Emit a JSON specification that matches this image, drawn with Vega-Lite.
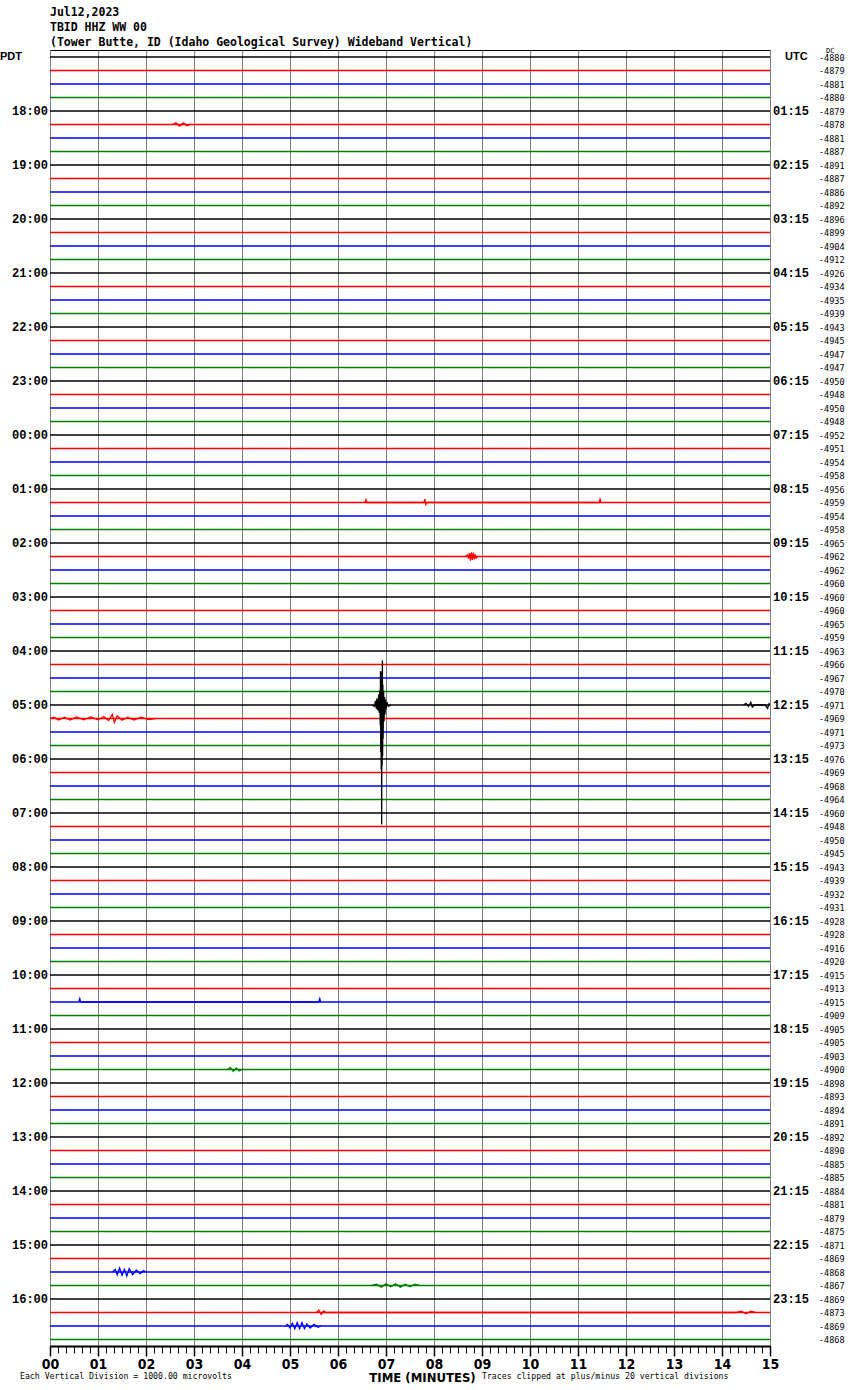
{
  "$schema": "https://vega.github.io/schema/vega-lite/v6.json",
  "width": 720,
  "height": 1296,
  "autosize": {"type": "none"},
  "padding": {"left": 50, "top": 50, "right": 80, "bottom": 44},
  "background": "white",
  "config": {"view": {"stroke": "black", "strokeWidth": 1}},
  "title": {
    "text": ["Jul12,2023", "TBID HHZ WW 00", "(Tower Butte, ID (Idaho Geological Survey) Wideband Vertical)"],
    "anchor": "start",
    "frame": "group",
    "font": "DejaVu Sans Mono",
    "fontSize": 11.5,
    "fontWeight": "bold",
    "color": "black",
    "lineHeight": 15,
    "offset": -2
  },
  "datasets": {
    "traces": [
      {"trace":0,"q":"00","dc":-4880},{"trace":1,"q":"15","dc":-4879},{"trace":2,"q":"30","dc":-4881},{"trace":3,"q":"45","dc":-4880},
      {"trace":4,"q":"00","dc":-4879,"pdt":"18:00","utc":"01:15"},{"trace":5,"q":"15","dc":-4878},{"trace":6,"q":"30","dc":-4881},{"trace":7,"q":"45","dc":-4887},
      {"trace":8,"q":"00","dc":-4891,"pdt":"19:00","utc":"02:15"},{"trace":9,"q":"15","dc":-4887},{"trace":10,"q":"30","dc":-4886},{"trace":11,"q":"45","dc":-4892},
      {"trace":12,"q":"00","dc":-4896,"pdt":"20:00","utc":"03:15"},{"trace":13,"q":"15","dc":-4899},{"trace":14,"q":"30","dc":-4904},{"trace":15,"q":"45","dc":-4912},
      {"trace":16,"q":"00","dc":-4926,"pdt":"21:00","utc":"04:15"},{"trace":17,"q":"15","dc":-4934},{"trace":18,"q":"30","dc":-4935},{"trace":19,"q":"45","dc":-4939},
      {"trace":20,"q":"00","dc":-4943,"pdt":"22:00","utc":"05:15"},{"trace":21,"q":"15","dc":-4945},{"trace":22,"q":"30","dc":-4947},{"trace":23,"q":"45","dc":-4947},
      {"trace":24,"q":"00","dc":-4950,"pdt":"23:00","utc":"06:15"},{"trace":25,"q":"15","dc":-4948},{"trace":26,"q":"30","dc":-4950},{"trace":27,"q":"45","dc":-4948},
      {"trace":28,"q":"00","dc":-4952,"pdt":"00:00","utc":"07:15"},{"trace":29,"q":"15","dc":-4951},{"trace":30,"q":"30","dc":-4954},{"trace":31,"q":"45","dc":-4958},
      {"trace":32,"q":"00","dc":-4956,"pdt":"01:00","utc":"08:15"},{"trace":33,"q":"15","dc":-4959},{"trace":34,"q":"30","dc":-4954},{"trace":35,"q":"45","dc":-4958},
      {"trace":36,"q":"00","dc":-4965,"pdt":"02:00","utc":"09:15"},{"trace":37,"q":"15","dc":-4962},{"trace":38,"q":"30","dc":-4962},{"trace":39,"q":"45","dc":-4960},
      {"trace":40,"q":"00","dc":-4960,"pdt":"03:00","utc":"10:15"},{"trace":41,"q":"15","dc":-4960},{"trace":42,"q":"30","dc":-4965},{"trace":43,"q":"45","dc":-4959},
      {"trace":44,"q":"00","dc":-4963,"pdt":"04:00","utc":"11:15"},{"trace":45,"q":"15","dc":-4966},{"trace":46,"q":"30","dc":-4967},{"trace":47,"q":"45","dc":-4970},
      {"trace":48,"q":"00","dc":-4971,"pdt":"05:00","utc":"12:15"},{"trace":49,"q":"15","dc":-4969},{"trace":50,"q":"30","dc":-4971},{"trace":51,"q":"45","dc":-4973},
      {"trace":52,"q":"00","dc":-4976,"pdt":"06:00","utc":"13:15"},{"trace":53,"q":"15","dc":-4969},{"trace":54,"q":"30","dc":-4968},{"trace":55,"q":"45","dc":-4964},
      {"trace":56,"q":"00","dc":-4960,"pdt":"07:00","utc":"14:15"},{"trace":57,"q":"15","dc":-4948},{"trace":58,"q":"30","dc":-4950},{"trace":59,"q":"45","dc":-4945},
      {"trace":60,"q":"00","dc":-4943,"pdt":"08:00","utc":"15:15"},{"trace":61,"q":"15","dc":-4939},{"trace":62,"q":"30","dc":-4932},{"trace":63,"q":"45","dc":-4931},
      {"trace":64,"q":"00","dc":-4928,"pdt":"09:00","utc":"16:15"},{"trace":65,"q":"15","dc":-4928},{"trace":66,"q":"30","dc":-4916},{"trace":67,"q":"45","dc":-4920},
      {"trace":68,"q":"00","dc":-4915,"pdt":"10:00","utc":"17:15"},{"trace":69,"q":"15","dc":-4913},{"trace":70,"q":"30","dc":-4915},{"trace":71,"q":"45","dc":-4909},
      {"trace":72,"q":"00","dc":-4905,"pdt":"11:00","utc":"18:15"},{"trace":73,"q":"15","dc":-4905},{"trace":74,"q":"30","dc":-4903},{"trace":75,"q":"45","dc":-4900},
      {"trace":76,"q":"00","dc":-4898,"pdt":"12:00","utc":"19:15"},{"trace":77,"q":"15","dc":-4893},{"trace":78,"q":"30","dc":-4894},{"trace":79,"q":"45","dc":-4891},
      {"trace":80,"q":"00","dc":-4892,"pdt":"13:00","utc":"20:15"},{"trace":81,"q":"15","dc":-4890},{"trace":82,"q":"30","dc":-4885},{"trace":83,"q":"45","dc":-4885},
      {"trace":84,"q":"00","dc":-4884,"pdt":"14:00","utc":"21:15"},{"trace":85,"q":"15","dc":-4881},{"trace":86,"q":"30","dc":-4879},{"trace":87,"q":"45","dc":-4875},
      {"trace":88,"q":"00","dc":-4871,"pdt":"15:00","utc":"22:15"},{"trace":89,"q":"15","dc":-4869},{"trace":90,"q":"30","dc":-4868},{"trace":91,"q":"45","dc":-4867},
      {"trace":92,"q":"00","dc":-4869,"pdt":"16:00","utc":"23:15"},{"trace":93,"q":"15","dc":-4873},{"trace":94,"q":"30","dc":-4869},{"trace":95,"q":"45","dc":-4868}
    ],
    "events": [
      {"seg":"eq","trace":48,"q":"00","minute":6.70,"amp":0},
      {"seg":"eq","trace":48,"q":"00","minute":6.76,"amp":0.1},
      {"seg":"eq","trace":48,"q":"00","minute":6.78,"amp":-0.3},
      {"seg":"eq","trace":48,"q":"00","minute":6.80,"amp":0.3},
      {"seg":"eq","trace":48,"q":"00","minute":6.81,"amp":-0.5},
      {"seg":"eq","trace":48,"q":"00","minute":6.83,"amp":0.4},
      {"seg":"eq","trace":48,"q":"00","minute":6.85,"amp":-0.8},
      {"seg":"eq","trace":48,"q":"00","minute":6.86,"amp":0.6},
      {"seg":"eq","trace":48,"q":"00","minute":6.87,"amp":-1.1},
      {"seg":"eq","trace":48,"q":"00","minute":6.88,"amp":1.5},
      {"seg":"eq","trace":48,"q":"00","minute":6.885,"amp":-2.5},
      {"seg":"eq","trace":48,"q":"00","minute":6.89,"amp":3.5},
      {"seg":"eq","trace":48,"q":"00","minute":6.895,"amp":-2.4},
      {"seg":"eq","trace":48,"q":"00","minute":6.90,"amp":4.8},
      {"seg":"eq","trace":48,"q":"00","minute":6.905,"amp":-1.8},
      {"seg":"eq","trace":48,"q":"00","minute":6.91,"amp":8.85},
      {"seg":"eq","trace":48,"q":"00","minute":6.915,"amp":-2.5},
      {"seg":"eq","trace":48,"q":"00","minute":6.92,"amp":4.5},
      {"seg":"eq","trace":48,"q":"00","minute":6.925,"amp":-3.3},
      {"seg":"eq","trace":48,"q":"00","minute":6.93,"amp":3.8},
      {"seg":"eq","trace":48,"q":"00","minute":6.935,"amp":-1.5},
      {"seg":"eq","trace":48,"q":"00","minute":6.94,"amp":2.5},
      {"seg":"eq","trace":48,"q":"00","minute":6.95,"amp":-1.0},
      {"seg":"eq","trace":48,"q":"00","minute":6.96,"amp":1.2},
      {"seg":"eq","trace":48,"q":"00","minute":6.97,"amp":-0.6},
      {"seg":"eq","trace":48,"q":"00","minute":6.98,"amp":0.7},
      {"seg":"eq","trace":48,"q":"00","minute":6.99,"amp":-0.4},
      {"seg":"eq","trace":48,"q":"00","minute":7.00,"amp":0.3},
      {"seg":"eq","trace":48,"q":"00","minute":7.02,"amp":-0.2},
      {"seg":"eq","trace":48,"q":"00","minute":7.05,"amp":0.1},
      {"seg":"eq","trace":48,"q":"00","minute":7.10,"amp":0},
      {"seg":"e48b","trace":48,"q":"00","minute":14.45,"amp":0},
      {"seg":"e48b","trace":48,"q":"00","minute":14.5,"amp":-0.12},
      {"seg":"e48b","trace":48,"q":"00","minute":14.55,"amp":0.1},
      {"seg":"e48b","trace":48,"q":"00","minute":14.6,"amp":-0.2},
      {"seg":"e48b","trace":48,"q":"00","minute":14.63,"amp":0.15},
      {"seg":"e48b","trace":48,"q":"00","minute":14.68,"amp":0},
      {"seg":"e48b","trace":48,"q":"00","minute":14.9,"amp":0},
      {"seg":"e48b","trace":48,"q":"00","minute":14.95,"amp":0.25},
      {"seg":"e48b","trace":48,"q":"00","minute":14.98,"amp":-0.1},
      {"seg":"e48b","trace":48,"q":"00","minute":15,"amp":0},
      {"seg":"e37","trace":37,"q":"15","minute":8.66,"amp":0},
      {"seg":"e37","trace":37,"q":"15","minute":8.70,"amp":-0.12},
      {"seg":"e37","trace":37,"q":"15","minute":8.72,"amp":0.15},
      {"seg":"e37","trace":37,"q":"15","minute":8.74,"amp":-0.25},
      {"seg":"e37","trace":37,"q":"15","minute":8.76,"amp":0.3},
      {"seg":"e37","trace":37,"q":"15","minute":8.78,"amp":-0.3},
      {"seg":"e37","trace":37,"q":"15","minute":8.80,"amp":0.25},
      {"seg":"e37","trace":37,"q":"15","minute":8.82,"amp":-0.28},
      {"seg":"e37","trace":37,"q":"15","minute":8.84,"amp":0.2},
      {"seg":"e37","trace":37,"q":"15","minute":8.86,"amp":-0.15},
      {"seg":"e37","trace":37,"q":"15","minute":8.88,"amp":0.12},
      {"seg":"e37","trace":37,"q":"15","minute":8.91,"amp":0},
      {"seg":"e49","trace":49,"q":"15","minute":0,"amp":0},
      {"seg":"e49","trace":49,"q":"15","minute":0.08,"amp":-0.1},
      {"seg":"e49","trace":49,"q":"15","minute":0.18,"amp":0.12},
      {"seg":"e49","trace":49,"q":"15","minute":0.3,"amp":-0.1},
      {"seg":"e49","trace":49,"q":"15","minute":0.42,"amp":0.12},
      {"seg":"e49","trace":49,"q":"15","minute":0.55,"amp":-0.12},
      {"seg":"e49","trace":49,"q":"15","minute":0.7,"amp":0.1},
      {"seg":"e49","trace":49,"q":"15","minute":0.85,"amp":-0.12},
      {"seg":"e49","trace":49,"q":"15","minute":1.0,"amp":0.1},
      {"seg":"e49","trace":49,"q":"15","minute":1.12,"amp":-0.15},
      {"seg":"e49","trace":49,"q":"15","minute":1.22,"amp":0.15},
      {"seg":"e49","trace":49,"q":"15","minute":1.3,"amp":-0.3},
      {"seg":"e49","trace":49,"q":"15","minute":1.34,"amp":0.3},
      {"seg":"e49","trace":49,"q":"15","minute":1.4,"amp":-0.2},
      {"seg":"e49","trace":49,"q":"15","minute":1.5,"amp":0.12},
      {"seg":"e49","trace":49,"q":"15","minute":1.62,"amp":-0.1},
      {"seg":"e49","trace":49,"q":"15","minute":1.75,"amp":0.12},
      {"seg":"e49","trace":49,"q":"15","minute":1.9,"amp":-0.1},
      {"seg":"e49","trace":49,"q":"15","minute":2.05,"amp":0.08},
      {"seg":"e49","trace":49,"q":"15","minute":2.2,"amp":0},
      {"seg":"e90","trace":90,"q":"30","minute":1.3,"amp":0},
      {"seg":"e90","trace":90,"q":"30","minute":1.36,"amp":-0.2},
      {"seg":"e90","trace":90,"q":"30","minute":1.40,"amp":0.2},
      {"seg":"e90","trace":90,"q":"30","minute":1.45,"amp":-0.3},
      {"seg":"e90","trace":90,"q":"30","minute":1.5,"amp":0.25},
      {"seg":"e90","trace":90,"q":"30","minute":1.55,"amp":-0.2},
      {"seg":"e90","trace":90,"q":"30","minute":1.6,"amp":0.3},
      {"seg":"e90","trace":90,"q":"30","minute":1.65,"amp":-0.25},
      {"seg":"e90","trace":90,"q":"30","minute":1.72,"amp":0.2},
      {"seg":"e90","trace":90,"q":"30","minute":1.8,"amp":-0.15},
      {"seg":"e90","trace":90,"q":"30","minute":1.88,"amp":0.12},
      {"seg":"e90","trace":90,"q":"30","minute":1.95,"amp":-0.1},
      {"seg":"e90","trace":90,"q":"30","minute":2.0,"amp":0},
      {"seg":"e94","trace":94,"q":"30","minute":4.9,"amp":0},
      {"seg":"e94","trace":94,"q":"30","minute":4.95,"amp":-0.12},
      {"seg":"e94","trace":94,"q":"30","minute":5.0,"amp":0.15},
      {"seg":"e94","trace":94,"q":"30","minute":5.05,"amp":-0.2},
      {"seg":"e94","trace":94,"q":"30","minute":5.1,"amp":0.2},
      {"seg":"e94","trace":94,"q":"30","minute":5.15,"amp":-0.25},
      {"seg":"e94","trace":94,"q":"30","minute":5.2,"amp":0.2},
      {"seg":"e94","trace":94,"q":"30","minute":5.25,"amp":-0.25},
      {"seg":"e94","trace":94,"q":"30","minute":5.3,"amp":0.2},
      {"seg":"e94","trace":94,"q":"30","minute":5.35,"amp":-0.15},
      {"seg":"e94","trace":94,"q":"30","minute":5.42,"amp":0.15},
      {"seg":"e94","trace":94,"q":"30","minute":5.5,"amp":-0.12},
      {"seg":"e94","trace":94,"q":"30","minute":5.58,"amp":0.1},
      {"seg":"e94","trace":94,"q":"30","minute":5.65,"amp":0},
      {"seg":"e91","trace":91,"q":"45","minute":6.7,"amp":0},
      {"seg":"e91","trace":91,"q":"45","minute":6.8,"amp":-0.1},
      {"seg":"e91","trace":91,"q":"45","minute":6.9,"amp":0.12},
      {"seg":"e91","trace":91,"q":"45","minute":7.0,"amp":-0.12},
      {"seg":"e91","trace":91,"q":"45","minute":7.1,"amp":0.1},
      {"seg":"e91","trace":91,"q":"45","minute":7.2,"amp":-0.12},
      {"seg":"e91","trace":91,"q":"45","minute":7.3,"amp":0.12},
      {"seg":"e91","trace":91,"q":"45","minute":7.4,"amp":-0.1},
      {"seg":"e91","trace":91,"q":"45","minute":7.5,"amp":0.1},
      {"seg":"e91","trace":91,"q":"45","minute":7.6,"amp":-0.1},
      {"seg":"e91","trace":91,"q":"45","minute":7.7,"amp":0},
      {"seg":"e93","trace":93,"q":"15","minute":5.55,"amp":0},
      {"seg":"e93","trace":93,"q":"15","minute":5.6,"amp":-0.18},
      {"seg":"e93","trace":93,"q":"15","minute":5.65,"amp":0.15},
      {"seg":"e93","trace":93,"q":"15","minute":5.7,"amp":-0.12},
      {"seg":"e93","trace":93,"q":"15","minute":5.75,"amp":0},
      {"seg":"e93","trace":93,"q":"15","minute":14.3,"amp":0},
      {"seg":"e93","trace":93,"q":"15","minute":14.4,"amp":-0.1},
      {"seg":"e93","trace":93,"q":"15","minute":14.5,"amp":0.1},
      {"seg":"e93","trace":93,"q":"15","minute":14.6,"amp":-0.1},
      {"seg":"e93","trace":93,"q":"15","minute":14.7,"amp":0},
      {"seg":"e5","trace":5,"q":"15","minute":2.55,"amp":0},
      {"seg":"e5","trace":5,"q":"15","minute":2.62,"amp":-0.12},
      {"seg":"e5","trace":5,"q":"15","minute":2.7,"amp":0.12},
      {"seg":"e5","trace":5,"q":"15","minute":2.78,"amp":-0.12},
      {"seg":"e5","trace":5,"q":"15","minute":2.85,"amp":0.1},
      {"seg":"e5","trace":5,"q":"15","minute":2.92,"amp":0},
      {"seg":"e33","trace":33,"q":"15","minute":6.56,"amp":0},
      {"seg":"e33","trace":33,"q":"15","minute":6.58,"amp":-0.2},
      {"seg":"e33","trace":33,"q":"15","minute":6.6,"amp":0},
      {"seg":"e33","trace":33,"q":"15","minute":7.79,"amp":0},
      {"seg":"e33","trace":33,"q":"15","minute":7.81,"amp":-0.25},
      {"seg":"e33","trace":33,"q":"15","minute":7.83,"amp":0.15},
      {"seg":"e33","trace":33,"q":"15","minute":7.85,"amp":0},
      {"seg":"e33","trace":33,"q":"15","minute":11.44,"amp":0},
      {"seg":"e33","trace":33,"q":"15","minute":11.46,"amp":-0.25},
      {"seg":"e33","trace":33,"q":"15","minute":11.48,"amp":0},
      {"seg":"e75","trace":75,"q":"45","minute":3.7,"amp":0},
      {"seg":"e75","trace":75,"q":"45","minute":3.76,"amp":-0.15},
      {"seg":"e75","trace":75,"q":"45","minute":3.82,"amp":0.15},
      {"seg":"e75","trace":75,"q":"45","minute":3.88,"amp":-0.12},
      {"seg":"e75","trace":75,"q":"45","minute":3.94,"amp":0.1},
      {"seg":"e75","trace":75,"q":"45","minute":4.0,"amp":0},
      {"seg":"e70","trace":70,"q":"30","minute":0.6,"amp":0},
      {"seg":"e70","trace":70,"q":"30","minute":0.62,"amp":-0.25},
      {"seg":"e70","trace":70,"q":"30","minute":0.64,"amp":0},
      {"seg":"e70","trace":70,"q":"30","minute":5.6,"amp":0},
      {"seg":"e70","trace":70,"q":"30","minute":5.62,"amp":-0.25},
      {"seg":"e70","trace":70,"q":"30","minute":5.64,"amp":0}
    ]
  },
  "layer": [
    {
      "data": {"name": "traces"},
      "mark": {"type": "rule", "strokeWidth": 1.5},
      "encoding": {
        "x": {
          "datum": 0, "type": "quantitative",
          "scale": {"domain": [0, 15], "nice": false, "zero": false},
          "axis": {
            "orient": "bottom",
            "values": [0.1667,0.3333,0.5,0.6667,0.8333,1.1667,1.3333,1.5,1.6667,1.8333,2.1667,2.3333,2.5,2.6667,2.8333,3.1667,3.3333,3.5,3.6667,3.8333,4.1667,4.3333,4.5,4.6667,4.8333,5.1667,5.3333,5.5,5.6667,5.8333,6.1667,6.3333,6.5,6.6667,6.8333,7.1667,7.3333,7.5,7.6667,7.8333,8.1667,8.3333,8.5,8.6667,8.8333,9.1667,9.3333,9.5,9.6667,9.8333,10.1667,10.3333,10.5,10.6667,10.8333,11.1667,11.3333,11.5,11.6667,11.8333,12.1667,12.3333,12.5,12.6667,12.8333,13.1667,13.3333,13.5,13.6667,13.8333,14.1667,14.3333,14.5,14.6667,14.8333],
            "labels": false, "grid": false, "domain": false,
            "ticks": true, "tickColor": "black", "tickSize": 7, "tickWidth": 1,
            "title": null
          }
        },
        "x2": {"datum": 15},
        "y": {
          "field": "trace", "type": "quantitative",
          "scale": {"domain": [-0.5185, 95.4815], "reverse": true, "nice": false, "zero": false},
          "axis": null
        },
        "color": {
          "field": "q", "type": "nominal",
          "scale": {"domain": ["00", "15", "30", "45"], "range": ["#000000", "#ff0000", "#0000ff", "#008000"]},
          "legend": null
        }
      }
    },
    {
      "data": {"name": "events"},
      "transform": [{"calculate": "datum.trace + datum.amp", "as": "pos"}],
      "mark": {"type": "line", "strokeWidth": 1.3},
      "encoding": {
        "x": {
          "field": "minute", "type": "quantitative",
          "axis": {
            "orient": "bottom",
            "values": [0,1,2,3,4,5,6,7,8,9,10,11,12,13,14,15],
            "format": "02d",
            "grid": true, "gridColor": "#808080", "gridWidth": 1, "gridOpacity": 1,
            "domain": true, "domainColor": "black", "domainWidth": 2,
            "ticks": true, "tickColor": "black", "tickSize": 10, "tickWidth": 1.5,
            "labelFont": "Liberation Sans Narrow, DejaVu Sans Condensed, sans-serif",
            "labelFontSize": 14, "labelFontWeight": "bold", "labelColor": "black",
            "labelPadding": 1, "labelFlush": false, "labelOverlap": false,
            "title": "TIME (MINUTES)",
            "titleFont": "Liberation Sans Narrow, DejaVu Sans Condensed, sans-serif",
            "titleFontSize": 13, "titleFontWeight": "bold", "titleColor": "black",
            "titleAlign": "center", "titleX": 372, "titleY": 25, "titleBaseline": "top"
          }
        },
        "y": {"field": "pos", "type": "quantitative", "axis": null},
        "color": {"field": "q", "type": "nominal", "legend": null},
        "detail": {"field": "seg"}
      }
    },
    {
      "data": {"name": "traces"},
      "transform": [{"filter": "isValid(datum.pdt)"}],
      "mark": {"type": "text", "align": "right", "baseline": "middle", "dx": -2, "font": "Liberation Mono", "fontSize": 12, "fontWeight": "bold", "color": "black"},
      "encoding": {
        "x": {"datum": 0, "type": "quantitative", "axis": null},
        "y": {"field": "trace", "type": "quantitative", "axis": null},
        "text": {"field": "pdt", "type": "nominal"}
      }
    },
    {
      "data": {"name": "traces"},
      "transform": [{"filter": "isValid(datum.utc)"}],
      "mark": {"type": "text", "align": "left", "baseline": "middle", "dx": 3, "font": "Liberation Mono", "fontSize": 12, "fontWeight": "bold", "color": "black"},
      "encoding": {
        "x": {"datum": 15, "type": "quantitative", "axis": null},
        "y": {"field": "trace", "type": "quantitative", "axis": null},
        "text": {"field": "utc", "type": "nominal"}
      }
    },
    {
      "data": {"name": "traces"},
      "mark": {"type": "text", "align": "left", "baseline": "middle", "dx": 49, "dy": 1, "font": "DejaVu Sans Mono", "fontSize": 8.5, "color": "black"},
      "encoding": {
        "x": {"datum": 15, "type": "quantitative", "axis": null},
        "y": {"field": "trace", "type": "quantitative", "axis": null},
        "text": {"field": "dc", "type": "nominal"}
      }
    },
    {
      "data": {"values": [{"label": "PDT"}]},
      "mark": {"type": "text", "align": "left", "baseline": "middle", "dx": -50, "font": "Liberation Sans", "fontSize": 11, "fontWeight": "bold", "color": "black"},
      "encoding": {
        "x": {"datum": 0, "type": "quantitative", "axis": null},
        "y": {"datum": 0, "type": "quantitative", "axis": null},
        "text": {"field": "label", "type": "nominal"}
      }
    },
    {
      "data": {"values": [{"label": "UTC"}]},
      "mark": {"type": "text", "align": "left", "baseline": "middle", "dx": 15, "font": "Liberation Sans", "fontSize": 11, "fontWeight": "bold", "color": "black"},
      "encoding": {
        "x": {"datum": 15, "type": "quantitative", "axis": null},
        "y": {"datum": 0, "type": "quantitative", "axis": null},
        "text": {"field": "label", "type": "nominal"}
      }
    },
    {
      "data": {"values": [{"label": "DC"}]},
      "mark": {"type": "text", "align": "left", "baseline": "middle", "dx": 56, "dy": -6, "font": "DejaVu Sans Mono", "fontSize": 7, "color": "black"},
      "encoding": {
        "x": {"datum": 15, "type": "quantitative", "axis": null},
        "y": {"datum": 0, "type": "quantitative", "axis": null},
        "text": {"field": "label", "type": "nominal"}
      }
    },
    {
      "data": {"values": [{"note": "Each Vertical Division = 1000.00 microvolts"}]},
      "mark": {"type": "text", "align": "left", "baseline": "middle", "dx": -30, "dy": 31, "font": "DejaVu Sans Mono", "fontSize": 8.2, "color": "black"},
      "encoding": {
        "x": {"datum": 0, "type": "quantitative", "axis": null},
        "y": {"datum": 95.4815, "type": "quantitative", "axis": null},
        "text": {"field": "note", "type": "nominal"}
      }
    },
    {
      "data": {"values": [{"note": "Traces clipped at plus/minus 20 vertical divisions"}]},
      "mark": {"type": "text", "align": "left", "baseline": "middle", "dy": 31, "font": "DejaVu Sans Mono", "fontSize": 8.2, "color": "black"},
      "encoding": {
        "x": {"datum": 9, "type": "quantitative", "axis": null},
        "y": {"datum": 95.4815, "type": "quantitative", "axis": null},
        "text": {"field": "note", "type": "nominal"}
      }
    }
  ],
  "resolve": {"axis": {"x": "independent"}}
}
